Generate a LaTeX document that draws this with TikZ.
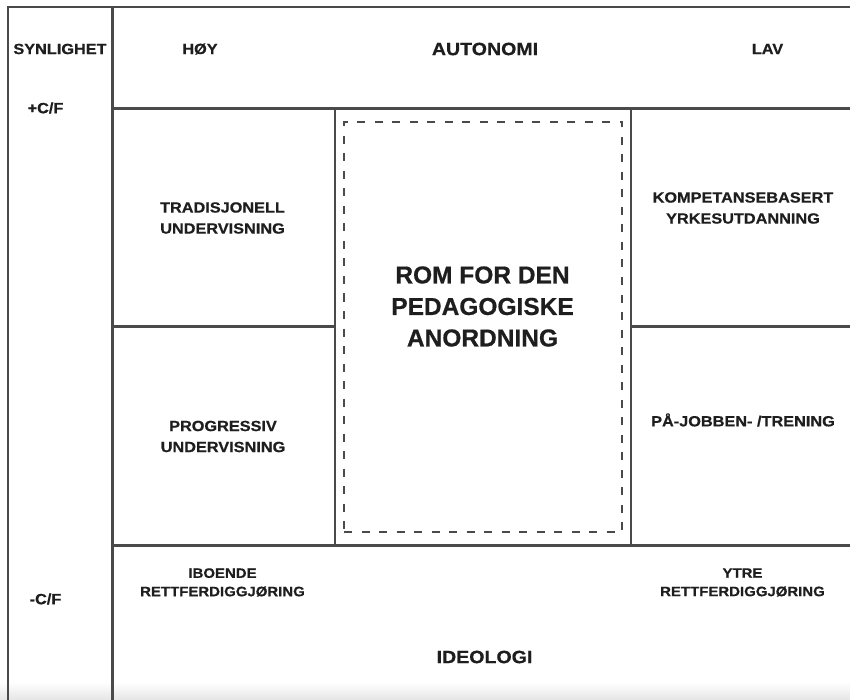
\documentclass[tikz,border=0pt]{standalone}
\usepackage{fontspec}
\setmainfont{Liberation Sans}
\newfontfamily\labfont{Liberation Sans}[FakeStretch=1.1,FakeBold=0.6]
\newfontfamily\bigfont{Liberation Sans}[FakeBold=0.6]
\definecolor{ink}{HTML}{1E1E1E}
\definecolor{rule}{HTML}{4A4A4A}
\begin{document}
\begin{tikzpicture}[x=1pt,y=-1pt,
  grid/.style={draw=rule,line width=2.2pt},
  dashbox/.style={draw=rule,line width=1.7pt,dash pattern=on 8pt off 9.5pt},
  lab/.style={inner sep=0pt,text=ink,align=center,font=\labfont\bfseries\fontsize{14.8}{21}\selectfont},
  labs/.style={lab,font=\labfont\bfseries\fontsize{13.6}{18.4}\selectfont},
  head/.style={lab,font=\labfont\bfseries\fontsize{17.8}{21}\selectfont},
  big/.style={inner sep=0pt,text=ink,align=center,font=\bigfont\bfseries\fontsize{24.5}{31.5}\selectfont}]
\useasboundingbox[fill=white] (0,0) rectangle (850,700);
\shade[top color=white,bottom color=black!10,draw=none] (0,682) rectangle (850,700);
% frame coordinates
\coordinate (tl) at (8,7);
\coordinate (bl) at (8,700);
\coordinate (tr) at (850,7);
\coordinate (ct) at (112.5,7);
\coordinate (cb) at (112.5,700);
\coordinate (h1l) at (112.5,108.5);
\coordinate (h1r) at (850,108.5);
\coordinate (h2l) at (112.5,545.5);
\coordinate (h2r) at (850,545.5);
\coordinate (v1t) at (335,108.5);
\coordinate (v1b) at (335,545.5);
\coordinate (v2t) at (631,108.5);
\coordinate (v2b) at (631,545.5);
\coordinate (ml) at (112.5,326.5);
\coordinate (mlr) at (335,326.5);
\coordinate (mrl) at (631,326.5);
\coordinate (mr) at (850,326.5);
\draw[grid] (bl) -- (tl) -- (tr);
\draw[grid] (ct) -- (cb);
\draw[grid] (h1l) -- (h1r);
\draw[grid] (h2l) -- (h2r);
\draw[grid] (v1t) -- (v1b);
\draw[grid] (v2t) -- (v2b);
\draw[grid] (ml) -- (mlr);
\draw[grid] (mrl) -- (mr);
\node[dashbox,minimum width=278pt,minimum height=410pt,inner sep=0pt] (room) at (483,327) {};
% labels
\node[lab] (syn) at (60,49) {SYNLIGHET};
\node[lab] (hoy) at (200,49) {HØY};
\node[head] (aut) at (485,49) {AUTONOMI};
\node[lab] (lav) at (767.5,49) {LAV};
\node[lab] (pcf) at (45.5,108) {+C/F};
\node[lab] (trad) at (222.5,218) {TRADISJONELL\\UNDERVISNING};
\node[lab] (komp) at (743,208) {KOMPETANSEBASERT\\YRKESUTDANNING};
\node[big] (rom) at (482.5,306.5) {ROM FOR DEN\\PEDAGOGISKE\\ANORDNING};
\node[lab] (prog) at (223,436.5) {PROGRESSIV\\UNDERVISNING};
\node[lab] (paj) at (743,420) {PÅ-JOBBEN- /TRENING};
\node[labs] (ibo) at (222.5,582.5) {IBOENDE\\RETTFERDIGGJØRING};
\node[labs] (ytre) at (742.5,582.5) {YTRE\\RETTFERDIGGJØRING};
\node[lab] (mcf) at (45.5,599) {-C/F};
\node[head] (ideo) at (484.5,657) {IDEOLOGI};
\end{tikzpicture}
\end{document}
